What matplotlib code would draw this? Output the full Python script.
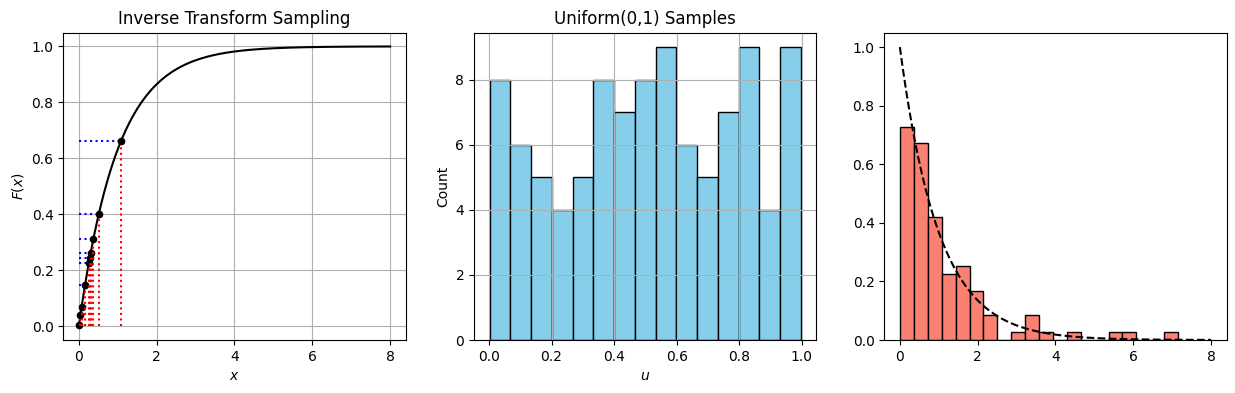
import numpy as np
import matplotlib
matplotlib.use('Agg')
import matplotlib.pyplot as plt

# first few uniform draws shown on the CDF panel
u_shown = [0.004, 0.039, 0.068, 0.147, 0.226, 0.244, 0.262, 0.31, 0.40, 0.66]

# uniform sample histogram (15 bins)
u_range = (0.002, 0.997)
u_counts = [8, 6, 5, 4, 5, 8, 7, 8, 9, 6, 5, 7, 9, 4, 9]

# exponential sample histogram (20 bins, density)
x_range = (0.004, 7.15)
x_counts = [26, 24, 15, 8, 9, 6, 3, 0, 1, 3, 1, 0, 1, 0, 0, 1, 1, 0, 0, 1]

lam = 1.0
x_max = 8

fig, axes = plt.subplots(1, 3, figsize=(12.35, 3.93))
ax1, ax2, ax3 = axes

# ---- left: inverse transform on the CDF
xs = np.linspace(0, x_max, 400)
ax1.plot(xs, 1 - np.exp(-lam * xs), 'k-')
for u in u_shown:
    xi = -np.log(1 - u) / lam
    ax1.plot([0, xi], [u, u], 'b:')
    ax1.plot([xi, xi], [0, u], 'r:')
    ax1.plot(xi, u, 'ko', ms=4.5)
ax1.set_title('Inverse Transform Sampling')
ax1.set_xlabel('$x$')
ax1.set_ylabel('$F(x)$')
ax1.grid(True)

# ---- middle: uniform samples
u_edges = np.linspace(u_range[0], u_range[1], len(u_counts) + 1)
ax2.hist(u_edges[:-1], bins=u_edges, weights=u_counts, color='skyblue', edgecolor='black')
ax2.set_title('Uniform(0,1) Samples')
ax2.set_xlabel('$u$')
ax2.set_ylabel('Count')
ax2.grid(True)

# ---- right: transformed samples vs pdf
x_edges = np.linspace(x_range[0], x_range[1], len(x_counts) + 1)
ax3.hist(x_edges[:-1], bins=x_edges, weights=x_counts, density=True,
         color='salmon', edgecolor='black')
ax3.plot(xs, lam * np.exp(-lam * xs), 'k--')

W, H = 1235, 393
for ax, left in zip(axes, [63.3, 474, 884.3]):
    ax.set_position([left / W, 1 - 340 / H, 342.4 / W, 307.5 / H])

plt.savefig('out.png', dpi=100)
